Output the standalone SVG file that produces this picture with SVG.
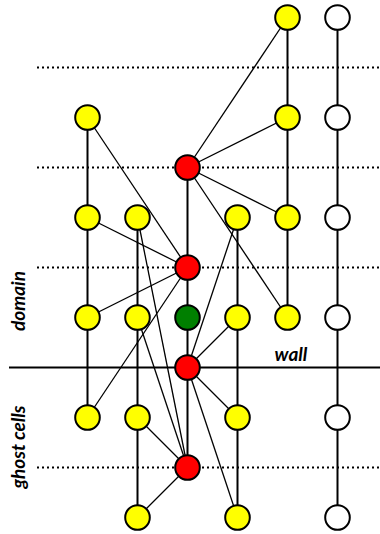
<svg xmlns="http://www.w3.org/2000/svg" width="380" height="534" viewBox="0 0 380 534">
  <style>
    .grid { stroke: #000; stroke-width: 2; stroke-dasharray: 2 3; fill: none; }
    .wall { stroke: #000; stroke-width: 2.2; fill: none; }
    .col { stroke: #000; stroke-width: 2; fill: none; }
    .link { stroke: #000; stroke-width: 1.3; fill: none; }
    .node { stroke: #000; stroke-width: 2; }
    .fluid { fill: #ffff00; }
    .solid { fill: #ffffff; }
    .probe { fill: #ff0000; }
    .centre { fill: #007f00; }
    .label { font-family: Lato, "Open Sans", "DejaVu Sans", sans-serif; font-style: italic; font-weight: bold; font-size: 19px; fill: #000; }
  </style>

  <!-- horizontal reference lines -->
  <g id="gridlines">
    <line class="grid" x1="37" y1="67.5" x2="380" y2="67.5"/>
    <line class="grid" x1="37" y1="167.5" x2="380" y2="167.5"/>
    <line class="grid" x1="37" y1="267.5" x2="380" y2="267.5"/>
    <line class="grid" x1="37" y1="467.5" x2="380" y2="467.5"/>
    <line class="wall" x1="9" y1="367.5" x2="380" y2="367.5"/>
  </g>

  <!-- connectors -->
  <g id="connectors">
    <!-- column lines -->
    <line class="col" x1="87.5" y1="117.5" x2="87.5" y2="417.5"/>
    <line class="col" x1="137.5" y1="217.5" x2="137.5" y2="517.5"/>
    <line class="col" x1="187.5" y1="167.5" x2="187.5" y2="467.5"/>
    <line class="col" x1="237.5" y1="217.5" x2="237.5" y2="517.5"/>
    <line class="col" x1="287.5" y1="17.5" x2="287.5" y2="317.5"/>
    <line class="col" x1="337.5" y1="17.5" x2="337.5" y2="517.5"/>
    <!-- stencil of point r1 -->
    <line class="link" x1="187.5" y1="167.5" x2="287.5" y2="17.5"/>
    <line class="link" x1="187.5" y1="167.5" x2="287.5" y2="117.5"/>
    <line class="link" x1="187.5" y1="167.5" x2="287.5" y2="217.5"/>
    <line class="link" x1="187.5" y1="167.5" x2="287.5" y2="317.5"/>
    <!-- stencil of point r2 -->
    <line class="link" x1="187.5" y1="267.5" x2="87.5" y2="117.5"/>
    <line class="link" x1="187.5" y1="267.5" x2="87.5" y2="217.5"/>
    <line class="link" x1="187.5" y1="267.5" x2="87.5" y2="317.5"/>
    <line class="link" x1="187.5" y1="267.5" x2="87.5" y2="417.5"/>
    <!-- stencil of point r3 (on the wall) -->
    <line class="link" x1="187.5" y1="367.5" x2="237.5" y2="217.5"/>
    <line class="link" x1="187.5" y1="367.5" x2="237.5" y2="317.5"/>
    <line class="link" x1="187.5" y1="367.5" x2="237.5" y2="417.5"/>
    <line class="link" x1="187.5" y1="367.5" x2="237.5" y2="517.5"/>
    <!-- stencil of point r4 (ghost) -->
    <line class="link" x1="187.5" y1="467.5" x2="137.5" y2="217.5"/>
    <line class="link" x1="187.5" y1="467.5" x2="137.5" y2="317.5"/>
    <line class="link" x1="187.5" y1="467.5" x2="137.5" y2="417.5"/>
    <line class="link" x1="187.5" y1="467.5" x2="137.5" y2="517.5"/>
  </g>

  <!-- nodes -->
  <g id="y-287-17"><circle class="node fluid" cx="287.5" cy="17.5" r="12.3"/></g>
  <g id="w-337-17"><circle class="node solid" cx="337.5" cy="17.5" r="12.3"/></g>

  <g id="y-87-117"><circle class="node fluid" cx="87.5" cy="117.5" r="12.3"/></g>
  <g id="y-287-117"><circle class="node fluid" cx="287.5" cy="117.5" r="12.3"/></g>
  <g id="w-337-117"><circle class="node solid" cx="337.5" cy="117.5" r="12.3"/></g>

  <g id="r1"><circle class="node probe" cx="187.5" cy="167.5" r="12.3"/></g>

  <g id="y-87-217"><circle class="node fluid" cx="87.5" cy="217.5" r="12.3"/></g>
  <g id="y-137-217"><circle class="node fluid" cx="137.5" cy="217.5" r="12.3"/></g>
  <g id="y-237-217"><circle class="node fluid" cx="237.5" cy="217.5" r="12.3"/></g>
  <g id="y-287-217"><circle class="node fluid" cx="287.5" cy="217.5" r="12.3"/></g>
  <g id="w-337-217"><circle class="node solid" cx="337.5" cy="217.5" r="12.3"/></g>

  <g id="r2"><circle class="node probe" cx="187.5" cy="267.5" r="12.3"/></g>

  <g id="y-87-317"><circle class="node fluid" cx="87.5" cy="317.5" r="12.3"/></g>
  <g id="y-137-317"><circle class="node fluid" cx="137.5" cy="317.5" r="12.3"/></g>
  <g id="g-187-317"><circle class="node centre" cx="187.5" cy="317.5" r="12.3"/></g>
  <g id="y-237-317"><circle class="node fluid" cx="237.5" cy="317.5" r="12.3"/></g>
  <g id="y-287-317"><circle class="node fluid" cx="287.5" cy="317.5" r="12.3"/></g>
  <g id="w-337-317"><circle class="node solid" cx="337.5" cy="317.5" r="12.3"/></g>

  <g id="r3"><circle class="node probe" cx="187.5" cy="367.5" r="12.3"/></g>

  <g id="y-87-417"><circle class="node fluid" cx="87.5" cy="417.5" r="12.3"/></g>
  <g id="y-137-417"><circle class="node fluid" cx="137.5" cy="417.5" r="12.3"/></g>
  <g id="y-237-417"><circle class="node fluid" cx="237.5" cy="417.5" r="12.3"/></g>
  <g id="w-337-417"><circle class="node solid" cx="337.5" cy="417.5" r="12.3"/></g>

  <g id="r4"><circle class="node probe" cx="187.5" cy="467.5" r="12.3"/></g>

  <g id="y-137-517"><circle class="node fluid" cx="137.5" cy="517.5" r="12.3"/></g>
  <g id="y-237-517"><circle class="node fluid" cx="237.5" cy="517.5" r="12.3"/></g>
  <g id="w-337-517"><circle class="node solid" cx="337.5" cy="517.5" r="12.3"/></g>

  <!-- labels -->
  <g id="labels">
    <text class="label" x="291" y="361" text-anchor="middle">wall</text>
    <text class="label" transform="translate(25,301) rotate(-90)" text-anchor="middle">domain</text>
    <text class="label" transform="translate(25,447) rotate(-90)" text-anchor="middle">ghost cells</text>
  </g>
</svg>
